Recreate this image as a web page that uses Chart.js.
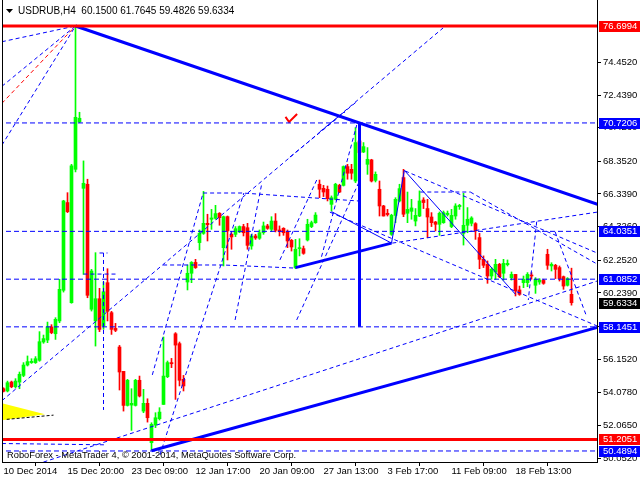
<!DOCTYPE html>
<html><head><meta charset="utf-8">
<script src="https://cdn.jsdelivr.net/npm/chart.js@4.4.1/dist/chart.umd.min.js"></script>
<style>html,body{margin:0;padding:0;background:#fff;}canvas{display:block}</style>
</head><body>
<canvas id="c" width="640" height="480"></canvas>
<script>
// ---- candle data (USDRUB H4) ----
const opens = [54.33,54.19,54.74,54.45,54.74,55.15,55.79,55.94,55.94,56.08,
57.21,57.33,58.14,57.72,58.51,60.40,65.81,59.64,67.86,70.78,
66.69,66.94,59.23,58.51,59.88,58.20,60.87,59.02,58.05,56.90,
55.40,53.30,53.32,53.30,54.85,52.95,53.43,51.00,52.09,52.48,
53.36,55.07,55.94,57.72,57.11,54.91,60.91,61.45,62.12,63.34,
63.91,64.53,64.78,64.84,65.15,63.03,64.94,63.85,63.85,64.00,
64.33,64.26,63.13,63.75,63.61,63.95,64.37,64.16,64.67,64.12,
64.22,64.02,63.48,61.80,62.97,62.97,63.50,64.33,64.57,66.94,
66.69,66.63,65.70,66.01,66.87,66.87,68.03,67.86,67.14,69.61,
68.93,68.17,68.44,67.18,66.63,65.60,65.15,63.85,65.02,65.91,
67.35,65.15,65.27,64.67,64.98,65.97,65.44,64.92,64.61,64.47,
64.57,65.07,64.33,64.98,65.56,63.91,64.41,64.53,64.51,63.65,
62.31,62.00,61.28,61.53,62.00,61.45,61.98,61.18,61.38,60.42,
60.87,60.87,61.34,60.71,60.91,61.01,62.62,61.90,61.94,61.80,
61.24,60.71,60.15];
const highs = [54.39,54.80,54.80,54.95,55.36,55.94,56.35,56.18,56.31,57.85,
57.64,58.44,58.28,58.71,61.08,65.95,66.42,68.17,76.6994,71.38,
68.38,67.25,61.69,62.72,60.52,60.91,61.73,59.10,58.36,57.00,
55.40,54.91,54.33,54.91,55.11,54.29,53.71,52.23,52.85,53.16,
57.52,56.04,56.20,57.79,57.21,55.15,61.96,62.17,62.31,64.12,
66.50,65.09,65.39,65.64,65.19,64.98,64.98,63.95,64.33,64.37,
64.47,64.53,63.85,63.85,64.12,64.61,64.47,64.94,65.13,64.37,
64.26,64.12,63.54,63.54,63.58,63.13,64.78,64.67,65.19,67.20,
66.87,66.83,66.22,67.00,66.94,68.07,68.17,68.17,70.43,70.7206,
69.51,69.20,68.48,67.70,67.14,65.64,65.39,65.09,66.11,66.94,
67.86,66.46,66.01,65.44,66.53,66.11,66.01,65.19,64.65,65.23,
65.29,65.29,65.39,65.74,65.70,66.38,65.50,64.94,64.57,63.91,
62.52,62.21,61.80,62.31,62.06,62.31,62.27,61.53,61.38,60.66,
61.28,61.49,61.49,61.18,61.12,61.08,62.93,62.10,62.00,61.90,
61.28,61.18,61.7645];
const lows = [54.13,54.13,54.39,54.37,54.33,55.07,55.73,55.89,55.89,56.02,
57.13,57.17,57.72,57.37,58.40,60.29,65.19,59.60,67.70,70.74,
61.38,59.94,59.12,56.96,57.85,57.99,58.51,57.68,57.85,54.25,
52.95,53.26,51.76,53.26,53.82,52.85,52.27,50.55,51.93,52.40,
53.36,55.01,55.63,53.67,54.50,54.19,60.42,60.87,61.75,62.89,
63.85,63.44,64.16,64.78,64.41,61.90,62.27,62.93,63.71,63.95,
63.75,62.93,62.93,63.54,63.54,63.85,64.16,64.02,64.00,63.75,
63.79,63.03,62.82,61.73,62.52,62.62,63.44,64.26,64.53,66.11,
66.18,65.91,65.29,65.97,66.42,66.83,67.25,67.25,67.04,68.79,
68.89,67.55,67.08,67.08,64.98,64.98,64.98,63.79,64.57,65.85,
64.94,64.57,64.78,64.37,64.94,65.44,63.65,64.33,64.06,63.79,
64.53,64.98,64.26,64.78,65.39,63.19,63.95,64.37,63.54,61.73,
61.80,60.83,61.08,61.08,61.18,61.03,61.90,61.03,60.05,60.09,
60.56,60.62,61.08,60.21,60.77,60.77,61.69,61.59,61.12,60.97,
60.46,60.66,59.4826];
const closes = [54.17,54.70,54.45,54.80,55.22,55.79,56.00,56.02,56.18,57.23,
57.42,58.14,57.79,58.61,60.46,65.91,65.25,68.07,71.07,71.01,
67.00,60.09,61.59,59.88,57.99,60.31,59.10,57.99,57.93,55.36,
53.30,54.85,53.43,54.85,53.88,53.43,52.54,52.13,52.54,52.89,
55.11,55.94,55.87,57.02,54.85,54.50,61.45,62.12,61.80,63.91,
64.53,64.45,64.86,65.13,64.88,64.94,64.06,63.69,64.20,64.33,
63.95,63.17,63.75,63.63,63.95,64.37,64.22,64.67,64.10,64.02,
63.95,63.44,63.07,62.93,63.03,62.68,64.47,64.57,65.04,66.63,
66.46,66.05,66.11,66.94,66.46,68.03,67.62,67.62,69.51,68.89,
69.26,68.48,67.14,67.55,65.60,64.98,65.07,65.02,66.01,66.67,
65.09,65.39,65.48,65.02,65.91,65.81,64.92,64.57,64.47,65.15,
65.19,65.15,65.02,65.60,65.64,64.41,64.78,64.86,64.06,62.31,
61.94,61.28,61.69,62.00,61.24,62.06,62.06,61.38,60.36,60.15,
61.08,61.38,61.28,61.08,61.03,60.83,61.94,62.00,61.69,61.12,
60.66,61.12,59.6334];

// ---- axis labels ----
const timeLabels = ['10 Dec 2014','15 Dec 20:00','23 Dec 09:00','12 Jan 17:00','20 Jan 09:00','27 Jan 13:00','3 Feb 17:00','11 Feb 09:00','18 Feb 13:00'];
const timeLabelBars = [0,16,32,48,64,80,96,112,128];
const priceTicks = [74.4520,72.4390,70.4260,68.3520,66.3390,64.3260,62.2520,60.2390,58.1450,56.1520,54.0780,52.0650,50.0520];

// ---- horizontal levels ----
const redLevels = [76.6994, 51.2051];
const blueLevels = [70.7206, 64.0351, 61.0852, 58.1451, 50.4894];
const bidPrice = 59.6334;

// ---- drawn objects as [bar, price] points ----
const thickLines = [
  [[18,76.6994],[150,65.58]],
  [[37,50.50],[149,58.15]],
  [[73,61.80],[97,63.31]],
  [[89,70.7206],[89,58.1451]]
];
const thinSolid = [
  [[97,63.31],[100.2,67.80],[128,60.15]],
  [[82,65.25],[97,63.31]]
];
const dashedBlue = [
  [[-0.4,75.73],[18,76.6994]],
  [[-0.4,72.98],[18,76.6994]],
  [[-0.4,69.35],[18,76.6994]],
  [[-0.4,53.59],[109.9,76.58]],
  [[0,49.00],[148.4,60.97]],
  [[-0.4,50.95],[25.4,50.87]],
  [[25,62.70],[25,53.02]],
  [[24,62.70],[26,62.70]],
  [[20,61.40],[28.2,61.40]],
  [[49.9,66.40],[59.7,66.40],[89.2,65.90]],
  [[39.9,61.96],[54.9,61.96],[72.9,61.77]],
  [[37.2,55.18],[49.9,66.40]],
  [[39.1,50.24],[60.1,66.40]],
  [[57.9,58.57],[64.6,67.02]],
  [[69.1,62.27],[78.3,67.20]],
  [[73.3,58.57],[89.1,67.20]],
  [[97.2,63.31],[148.4,65.22]],
  [[100.4,67.76],[148.4,62.70]],
  [[104.2,66.46],[116.7,66.46]],
  [[116.7,66.46],[148.4,62.02]],
  [[81.6,65.22],[148.4,58.20]],
  [[71.6,68.62],[85.4,71.40]],
  [[79.5,62.47],[88.3,70.59]],
  [[79.1,70.18],[88.3,72.03]],
  [[133.3,64.63],[131.2,59.80]],
  [[137.9,64.01],[145.8,58.77]]
];
const dashedRed = [[[-0.4,71.93],[18,76.6994]]];
const checkMark = [[70.5,71.09],[71.4,70.78],[73.4,71.27]];
const triUpper = [[-0.375,53.44],[10.4,52.75]];
const triLower = [[-0.375,52.39],[10.4,52.75]];
const triEdge = [[0.8,52.44],[12.5,52.70]];

// ---- build datasets ----
const GREEN = '#00ff00', RED = '#ff0000', BLUE = '#0000ff';
const pts = a => a.map(p => ({x: p[0], y: p[1]}));
const X0 = -0.375, X1 = 148.375;
const lineDs = (data, color, width, dash) => ({type:'line', data: pts(data), borderColor: color, borderWidth: width,
  borderDash: dash || [], pointRadius: 0, fill: false, tension: 0, order: 1});

const datasets = [];
redLevels.forEach(v => datasets.push(lineDs([[X0-1,v],[X1+1,v]], RED, 3)));
blueLevels.forEach(v => datasets.push(lineDs([[X0-1,v],[X1+1,v]], BLUE, 1, [5,3])));
thickLines.forEach(l => datasets.push(lineDs(l, BLUE, 3)));
thinSolid.forEach(l => datasets.push(lineDs(l, BLUE, 1)));
dashedBlue.forEach(l => datasets.push(lineDs(l, BLUE, 1, [4,3])));
dashedRed.forEach(l => datasets.push(lineDs(l, RED, 1, [4,3])));
datasets.push(lineDs(checkMark, RED, 2));
datasets.push(lineDs(triEdge, '#000', 1, [3,2]));
const tu = lineDs(triUpper, 'rgba(0,0,0,0)', 0); tu.fill = '+1'; tu.backgroundColor = '#ffff00'; tu.order = 3;
const tl = lineDs(triLower, 'rgba(0,0,0,0)', 0); tl.order = 3;
datasets.push(tu, tl);

const candleColor = c => closes[c.dataIndex] >= opens[c.dataIndex] ? GREEN : RED;
datasets.push({type:'bar', data: highs.map((h,i)=>({x:i, y:[lows[i], h]})), backgroundColor: candleColor,
  barThickness: 1, grouped: false, borderWidth: 0, order: 2});
datasets.push({type:'bar', data: opens.map((o,i)=>{ let a=Math.min(o,closes[i]), b=Math.max(o,closes[i]); if (b-a<0.06){b=a+0.06;} return {x:i, y:[a,b]}; }),
  backgroundColor: candleColor, barThickness: 3, grouped: false, borderWidth: 0, order: 2});

const FONT = 'Liberation Sans';
const overlay = {
  id: 'overlay',
  beforeDraw(chart){ const c=chart.ctx; c.save(); c.fillStyle='#fff'; c.fillRect(0,0,chart.width,chart.height); c.restore(); },
  afterDraw(chart){
    const c = chart.ctx, ys = chart.scales.y, a = chart.chartArea;
    c.save();
    c.strokeStyle = '#000'; c.lineWidth = 1;
    c.beginPath(); c.moveTo(a.left+0.5, a.top); c.lineTo(a.left+0.5, a.bottom); c.stroke();
    c.font = '9.5px "' + FONT + '"'; c.textBaseline = 'middle'; c.textAlign = 'left';
    const boxes = redLevels.map(v=>[v,RED]).concat(blueLevels.map(v=>[v,BLUE])).concat([[bidPrice,'#000']]);
    boxes.forEach(([v,col]) => {
      const y = Math.round(ys.getPixelForValue(v));
      c.fillStyle = col; c.fillRect(a.right+2, y-5, chart.width-a.right-2, 11);
      c.fillStyle = '#fff'; c.fillText(v.toFixed(4), a.right+6, y+0.5);
    });
    // header
    c.fillStyle = '#000';
    c.font = '10px "' + FONT + '"';
    c.beginPath(); c.moveTo(6,9); c.lineTo(13,9); c.lineTo(9.5,13); c.closePath(); c.fill();
    c.fillText('USDRUB,H4  60.1500 61.7645 59.4826 59.6334', 18, 11);
    c.font = '9.3px "' + FONT + '"';
    c.fillText('RoboForex - MetaTrader 4, \u00a9 2001-2014, MetaQuotes Software Corp.', 7, 455);
    c.restore();
  }
};

new Chart(document.getElementById('c'), {
  type: 'bar',
  data: { datasets },
  options: {
    responsive: false, animation: false, events: [],
    layout: { padding: { left: 2, right: 0, top: 0, bottom: 0 } },
    plugins: { legend: { display: false }, tooltip: { enabled: false } },
    scales: {
      x: { type: 'linear', min: X0, max: X1, offset: false,
        afterBuildTicks: s => { s.ticks = timeLabelBars.map(v => ({value: v})); },
        afterFit: s => { s.height = 18; s.paddingLeft = 0; s.paddingRight = 0; },
        grid: { drawOnChartArea: false, drawTicks: true, tickLength: 4, color: '#000' },
        border: { display: true, color: '#000' },
        ticks: { align: 'start', autoSkip: false, maxRotation: 0, padding: 0, color: '#000',
          font: { family: FONT, size: 9.5 }, callback: (v, i) => timeLabels[i] } },
      y: { position: 'right', min: 49.81, max: 78.303,
        afterBuildTicks: s => { s.ticks = priceTicks.map(v => ({value: v})); },
        afterFit: s => { s.width = 43; s.paddingTop = 0; s.paddingBottom = 0; },
        grid: { drawOnChartArea: false, drawTicks: true, tickLength: 4, color: '#000' },
        border: { display: true, color: '#000' },
        ticks: { padding: 2, color: '#000', font: { family: FONT, size: 9.5 }, callback: v => v.toFixed(4) } }
    }
  },
  plugins: [overlay]
});
</script>
</body></html>
